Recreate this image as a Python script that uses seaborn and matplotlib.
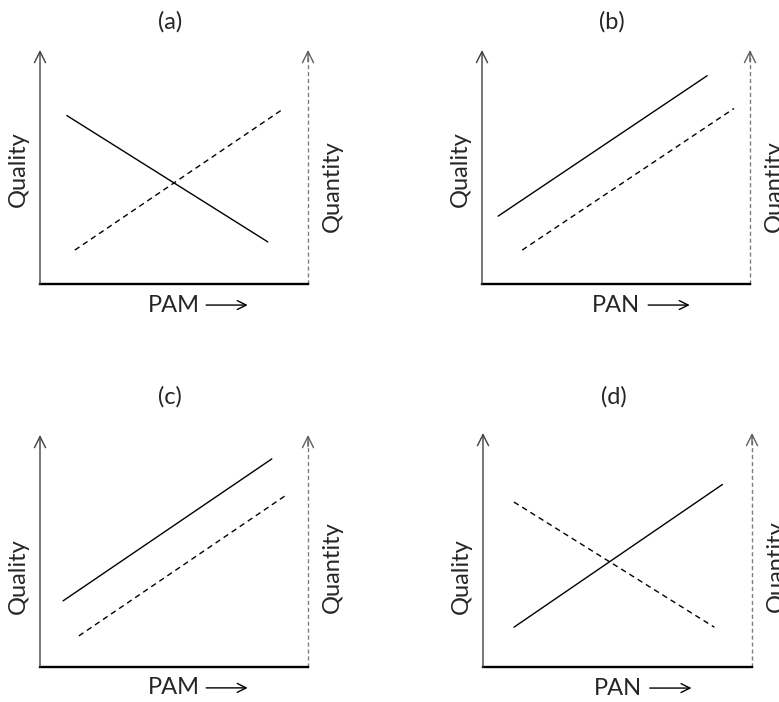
import numpy as np
import pandas as pd
import seaborn as sns
import matplotlib.pyplot as plt

# panel titles and x-axis names
titles = ['(a)', '(b)', '(c)', '(d)']
xnames = ['PAM', 'PAN', 'PAM', 'PAN']

# line end points (x from 0..10, y from 0..10)
quality_x = [[1.0, 8.5], [0.6, 8.4], [0.86, 8.65], [1.15, 8.9]]
quality_y = [[7.2, 1.8], [2.9, 8.9], [2.85, 8.97], [1.7, 7.8]]
quantity_x = [[1.3, 9.1], [1.5, 9.4], [1.45, 9.25], [1.15, 8.6]]
quantity_y = [[1.45, 7.5], [1.45, 7.5], [1.34, 7.46], [7.05, 1.7]]

sns.set_style('white')
plt.rcParams['font.family'] = ['Lato', 'DejaVu Sans']

fig = plt.figure(figsize=(7.79, 7.02), dpi=100)
W, H = 779, 702

# axes boxes in pixels: left, right, bottom, top
boxes = [(40, 308, 284, 50), (482, 750, 284, 50),
         (40, 308, 667, 435), (483, 752, 667, 433)]
title_y = [22, 22, 397, 397]
quality_pos = [0.49, 0.49, 0.39, 0.39]
quantity_pos = [0.42, 0.42, 0.43, 0.43]
fs = 17

for i in range(4):
    l, r, b, t = boxes[i]
    ax = fig.add_axes([l / W, 1 - b / H, (r - l) / W, (b - t) / H])
    ax.set_xlim(0, 10)
    ax.set_ylim(0, 10)

    sns.lineplot(x=quality_x[i], y=quality_y[i], ax=ax, color='black', lw=1.0)
    sns.lineplot(x=quantity_x[i], y=quantity_y[i], ax=ax, color='black', lw=1.0,
                 linestyle=(0, (4, 3)))

    for s in ['top', 'right', 'left']:
        ax.spines[s].set_visible(False)
    ax.spines['bottom'].set_linewidth(1.7)
    ax.spines['bottom'].set_color('black')
    ax.set_xticks([])
    ax.set_yticks([])
    ax.set_xlabel('')
    ax.set_ylabel('')

    # left (quality) axis with arrow
    ax.annotate('', xy=(0, 10), xytext=(0, 0), xycoords='data',
                arrowprops=dict(arrowstyle='->', color='#404040', lw=1.0,
                                mutation_scale=20, shrinkA=0, shrinkB=0),
                annotation_clip=False)
    # right (quantity) axis, dashed gray
    ax.plot([10, 10], [0, 9.95], color='#808080', lw=1.0,
            linestyle=(0, (3, 2)), clip_on=False)
    ax.annotate('', xy=(10, 10), xytext=(10, 9.5), xycoords='data',
                arrowprops=dict(arrowstyle='->', color='#606060', lw=1.0,
                                mutation_scale=20, shrinkA=0, shrinkB=0),
                annotation_clip=False)

    ax.text(-0.082, quality_pos[i], 'Quality', transform=ax.transAxes,
            rotation=90, ha='center', va='center', fontsize=fs)
    ax.text(1.09, quantity_pos[i], 'Quantity', transform=ax.transAxes,
            rotation=90, ha='center', va='center', fontsize=fs)

    ax.text(0.5, -0.09, xnames[i], transform=ax.transAxes,
            ha='center', va='center', fontsize=fs)
    ax.annotate('', xy=(0.775, -0.09), xytext=(0.62, -0.09),
                xycoords='axes fraction',
                arrowprops=dict(arrowstyle='->', color='black', lw=1.0,
                                mutation_scale=16, shrinkA=0, shrinkB=0),
                annotation_clip=False)

    fig.text(((l + r) / 2 - 4) / W, 1 - title_y[i] / H, titles[i],
             ha='center', va='center', fontsize=fs)

fig.savefig('out.png', dpi=100)
